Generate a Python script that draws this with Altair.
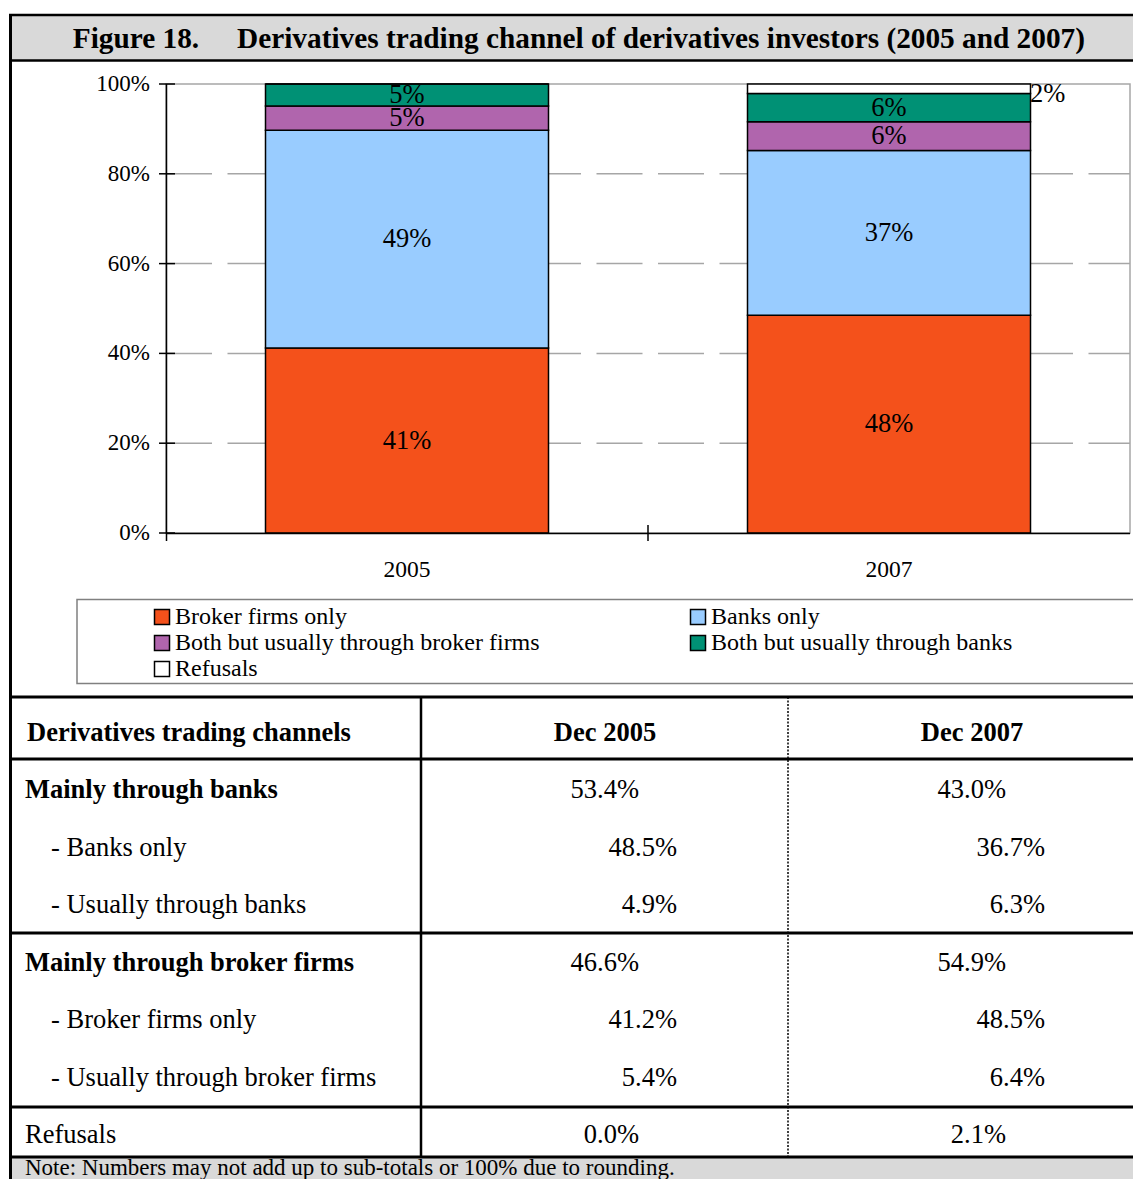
import altair as alt
import pandas as pd

# ---------------- data ----------------
years = ["2005", "2007"]
channels = ["Broker firms only", "Banks only", "Both but usually through broker firms",
            "Both but usually through banks", "Refusals"]
share_2005 = [41.2, 48.5, 5.4, 4.9, 0.0]
share_2007 = [48.5, 36.7, 6.4, 6.3, 2.1]
label_2005 = ["41%", "49%", "5%", "5%", ""]
label_2007 = ["48%", "37%", "6%", "6%", "2%"]
channel_colors = ["#F4511B", "#99CCFF", "#B065AD", "#009175", "#FFFFFF"]
y_tick_values = [0, 20, 40, 60, 80, 100]
y_tick_labels = ["0%", "20%", "40%", "60%", "80%", "100%"]
grid_values = [20, 40, 60, 80]

title_lead = "Figure 18."
title_main = "Derivatives trading channel of derivatives investors (2005 and 2007)"

table_header = ["Derivatives trading channels", "Dec 2005", "Dec 2007"]
table_rows = ["Mainly through banks", "- Banks only", "- Usually through banks",
              "Mainly through broker firms", "- Broker firms only",
              "- Usually through broker firms", "Refusals"]
row_kind = ["main", "sub", "sub", "main", "sub", "sub", "plain"]
dec_2005 = [53.4, 48.5, 4.9, 46.6, 41.2, 5.4, 0.0]
dec_2007 = [43.0, 36.7, 6.3, 54.9, 48.5, 6.4, 2.1]
note_text = "Note: Numbers may not add up to sub-totals or 100% due to rounding."

# ---------------- tables built from the arrays ----------------
bar_rows = []
for yr, shares, labs in zip(years, [share_2005, share_2007], [label_2005, label_2007]):
    for i, (c, s, l) in enumerate(zip(channels, shares, labs)):
        bar_rows.append(dict(year=yr, channel=c, share=s, label=l, order=i))
bar_df = pd.DataFrame(bar_rows)

tick_df = pd.DataFrame({"v": y_tick_values, "lab": y_tick_labels})
grid_df = pd.DataFrame({"v": grid_values})
year_df = pd.DataFrame({"year": years})

trow = [dict(r=0, label=table_header[0], s2005=table_header[1], s2007=table_header[2], kind="header")]
for i, (lab, k, a, b) in enumerate(zip(table_rows, row_kind, dec_2005, dec_2007)):
    trow.append(dict(r=i + 1, label=lab, s2005=f"{a:.1f}%", s2007=f"{b:.1f}%", kind=k))
table_df = pd.DataFrame(trow)

F = "Liberation Serif"
GRAY_BAND = "#d9d9d9"
GRID = "#a6a6a6"


def P(v):  # page pixel -> plot pixel
    return v - 8


def x_scale():
    return alt.Scale(type="band", domain=years, range=[P(166), P(1130)],
                     paddingInner=0, paddingOuter=0)


def pct_scale():
    return alt.Scale(domain=[0, 100], range=[P(533), P(84)], nice=False, zero=False)


def row_scale():
    return alt.Scale(type="band", domain=list(range(8)), range=[P(704), P(1164)],
                     paddingInner=0, paddingOuter=0)


def hline(y, x1, x2, color="black", w=2.5, dash=None):
    kw = dict(color=color, strokeWidth=w)
    if dash:
        kw["strokeDash"] = dash
    return alt.Chart().mark_rule(**kw).encode(
        x=alt.value(P(x1)), x2=alt.value(P(x2)), y=alt.value(P(y)))


def vline(x, y1, y2, color="black", w=2.5, dash=None):
    kw = dict(color=color, strokeWidth=w)
    if dash:
        kw["strokeDash"] = dash
    return alt.Chart().mark_rule(**kw).encode(
        x=alt.value(P(x)), y=alt.value(P(y1)), y2=alt.value(P(y2)))


def box(x1, x2, y1, y2, fill, stroke=None, w=0):
    kw = dict(fill=fill)
    if stroke:
        kw["stroke"] = stroke
        kw["strokeWidth"] = w
    return alt.Chart().mark_rect(**kw).encode(
        x=alt.value(P(x1)), x2=alt.value(P(x2)), y=alt.value(P(y1)), y2=alt.value(P(y2)))


layers = []

# background bands
layers.append(box(10, 1150, 15, 60, GRAY_BAND))
layers.append(box(10, 1150, 1157, 1200, GRAY_BAND))

# title
layers.append(alt.Chart(pd.DataFrame({"t": [title_lead]})).mark_text(
    font=F, fontSize=29.3, fontWeight="bold", align="center", baseline="middle", color="black"
).encode(x=alt.value(P(136)), y=alt.value(P(39)), text="t:N"))
layers.append(alt.Chart(pd.DataFrame({"t": [title_main]})).mark_text(
    font=F, fontSize=29.3, fontWeight="bold", align="center", baseline="middle", color="black"
).encode(x=alt.value(P(661)), y=alt.value(P(39)), text="t:N"))

# plot area box
layers.append(box(166, 1130, 84, 533, "white", GRID, 1.5))

# gridlines
layers.append(alt.Chart(grid_df).mark_rule(color=GRID, strokeWidth=1.5, strokeDash=[46, 15.5]).encode(
    y=alt.Y("v:Q", scale=pct_scale(), axis=None),
    x=alt.value(P(166)), x2=alt.value(P(1130))))

# bars
legend = alt.Legend(title=None, orient="none", legendX=P(150), legendY=P(605), columns=2,
                    direction="horizontal",
                    symbolType="square", symbolSize=225, symbolStrokeColor="black",
                    symbolStrokeWidth=1.5, labelFont=F, labelFontSize=24, labelColor="black",
                    labelLimit=700, columnPadding=146, rowPadding=2, labelOffset=1, padding=0)
layers.append(alt.Chart(bar_df).transform_stack(
    stack="share", groupby=["year"], as_=["y0", "y1"],
    sort=[alt.SortField(field="order", order="ascending")]
).mark_bar(size=283, stroke="black", strokeWidth=1.5).encode(
    x=alt.X("year:N", scale=x_scale(), axis=None),
    y=alt.Y("y0:Q", scale=pct_scale(), axis=None),
    y2="y1:Q",
    color=alt.Color("channel:N", scale=alt.Scale(domain=channels, range=channel_colors), legend=legend),
    order=alt.Order("order:Q")))

# bar labels
lab_base = alt.Chart(bar_df).transform_stack(
    stack="share", groupby=["year"], as_=["y0", "y1"],
    sort=[alt.SortField(field="order", order="ascending")]
).transform_calculate(mid="(datum.y0 + datum.y1) / 2")
layers.append(lab_base.transform_filter("datum.label != '' && datum.channel != 'Refusals'").mark_text(
    font=F, fontSize=26.5, color="black", align="center", baseline="middle").encode(
    x=alt.X("year:N", scale=x_scale(), axis=None),
    y=alt.Y("mid:Q", scale=pct_scale(), axis=None),
    text="label:N"))
layers.append(lab_base.transform_filter("datum.label != '' && datum.channel == 'Refusals'").mark_text(
    font=F, fontSize=26.5, color="black", align="left", baseline="middle", dx=141, dy=5).encode(
    x=alt.X("year:N", scale=x_scale(), axis=None),
    y=alt.Y("mid:Q", scale=pct_scale(), axis=None),
    text="label:N"))

# axes
layers.append(vline(166.5, 84, 541, w=1.5))
layers.append(hline(533.5, 166, 1130, w=1.5))
layers.append(alt.Chart(tick_df).mark_rule(color="black", strokeWidth=1.5).encode(
    y=alt.Y("v:Q", scale=pct_scale(), axis=None),
    x=alt.value(P(159)), x2=alt.value(P(175))))
layers.append(alt.Chart(tick_df).mark_text(
    font=F, fontSize=23, color="black", align="right", baseline="middle").encode(
    y=alt.Y("v:Q", scale=pct_scale(), axis=None),
    x=alt.value(P(150)), text="lab:N"))
layers.append(alt.Chart(pd.DataFrame({"year": years[1:]})).mark_rule(color="black", strokeWidth=1.5).encode(
    x=alt.X("year:N", scale=x_scale(), axis=None, bandPosition=0),
    y=alt.value(P(525)), y2=alt.value(P(541))))
layers.append(alt.Chart(year_df).mark_text(
    font=F, fontSize=23.5, color="black", align="center", baseline="middle").encode(
    x=alt.X("year:N", scale=x_scale(), axis=None),
    y=alt.value(P(570)), text="year:N"))

# legend box
layers.append(box(77, 1150, 599.5, 683.5, "white", "#808080", 1.5))

# table text
tbase = alt.Chart(table_df)
ty = alt.Y("r:O", scale=row_scale(), axis=None)


def ttext(flt, field, x, align, bold=False):
    kw = dict(font=F, fontSize=26.5, color="black", align=align, baseline="middle")
    if bold:
        kw["fontWeight"] = "bold"
    return tbase.transform_filter(flt).mark_text(**kw).encode(
        y=ty, x=alt.value(P(x)), text=f"{field}:N")


layers.append(ttext("datum.kind == 'header'", "label", 27, "left", True))
layers.append(ttext("datum.kind == 'header'", "s2005", 605, "center", True))
layers.append(ttext("datum.kind == 'header'", "s2007", 972, "center", True))
layers.append(ttext("datum.kind == 'main'", "label", 25, "left", True))
layers.append(ttext("datum.kind == 'sub'", "label", 51, "left"))
layers.append(ttext("datum.kind == 'plain'", "label", 25, "left"))
layers.append(ttext("datum.kind == 'main' || datum.kind == 'plain'", "s2005", 639, "right"))
layers.append(ttext("datum.kind == 'main' || datum.kind == 'plain'", "s2007", 1006, "right"))
layers.append(ttext("datum.kind == 'sub'", "s2005", 677, "right"))
layers.append(ttext("datum.kind == 'sub'", "s2007", 1045, "right"))

# note
layers.append(alt.Chart(pd.DataFrame({"t": [note_text]})).mark_text(
    font=F, fontSize=23, color="black", align="left", baseline="middle").encode(
    x=alt.value(P(25)), y=alt.value(P(1167.5)), text="t:N"))

# frame lines
layers.append(hline(15, 9, 1150, w=2.5))
layers.append(hline(60.5, 9, 1150, w=2.5))
for yy in [697, 759, 933, 1107, 1157]:
    layers.append(hline(yy, 9, 1150, w=3))
layers.append(vline(421, 697, 1157, w=2.5))
layers.append(vline(788, 697, 1157, w=1.5, dash=[2, 1.5]))
layers.append(vline(10.5, 14, 1200, w=3))

chart = alt.layer(*layers).resolve_scale(
    x="independent", y="independent"
).properties(
    width=1125, height=1171, padding=0, autosize=alt.AutoSizeParams(type="none")
).configure_view(strokeWidth=0)

chart.save("out.html", embed_options={"renderer": "svg", "actions": False})
